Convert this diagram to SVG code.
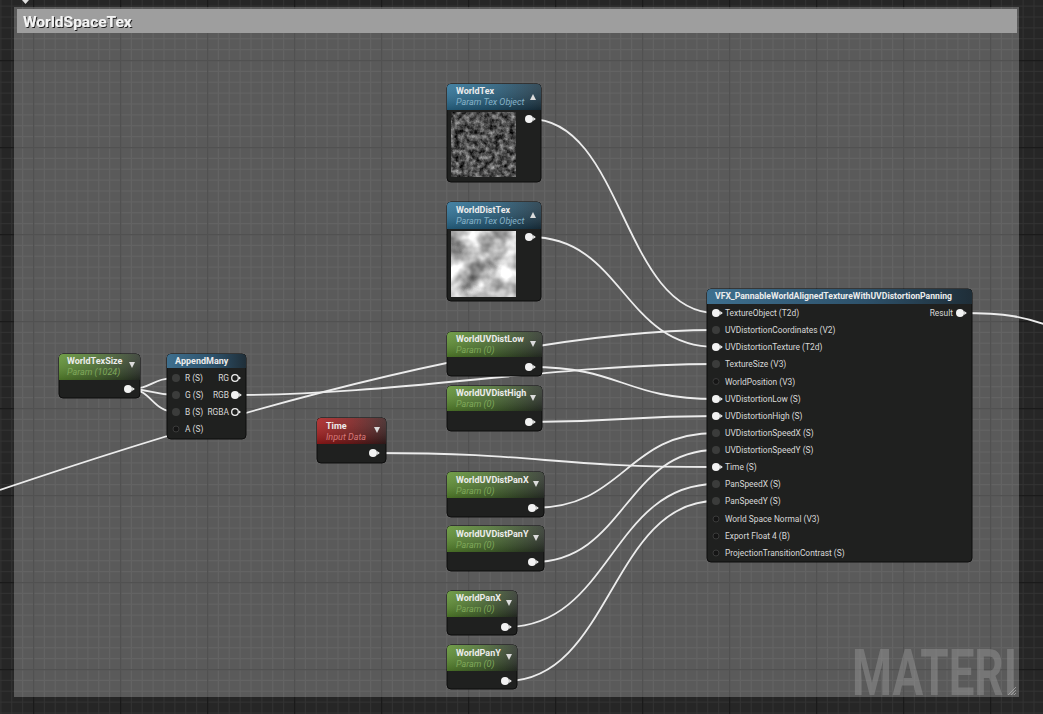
<svg xmlns="http://www.w3.org/2000/svg" width="1043" height="714" viewBox="0 0 1043 714">
<style>
.t{font-family:Roboto,"Liberation Sans",sans-serif;font-size:9px;font-weight:bold;fill:#ececec}
.s{font-family:Roboto,"Liberation Sans",sans-serif;font-size:9px;font-style:italic}
.sg{fill:#7fa85a}
.sb{fill:#86b2c8}
.sr{fill:#d77a7a}
.l{font-family:Roboto,"Liberation Sans",sans-serif;font-size:8.4px;fill:#d8d8d8}
.body{fill:#1f201f;stroke:#0d0d0d;stroke-width:1}
.w{fill:none;stroke:#ececec;stroke-width:1.8}
.pw{fill:#f2f2f2}
.pg{fill:#3b3c3b}
.pu{fill:#151515;stroke:#3a3a3a;stroke-width:1}
.tri{fill:#dcdcdc}
</style>
<defs>
<pattern id="grid" patternUnits="userSpaceOnUse" x="33" y="60" width="87" height="87">
<rect width="87" height="87" fill="#262626"/>
<g fill="#323232">
<rect x="10.9" width="1" height="87"/><rect x="21.7" width="1" height="87"/><rect x="32.6" width="1" height="87"/><rect x="43.5" width="1" height="87"/><rect x="54.4" width="1" height="87"/><rect x="65.2" width="1" height="87"/><rect x="76.1" width="1" height="87"/>
<rect y="10.9" width="87" height="1"/><rect y="21.7" width="87" height="1"/><rect y="32.6" width="87" height="1"/><rect y="43.5" width="87" height="1"/><rect y="54.4" width="87" height="1"/><rect y="65.2" width="87" height="1"/><rect y="76.1" width="87" height="1"/>
</g>
<g fill="#1a1a1a"><rect x="0" width="1.3" height="87"/><rect y="0" width="87" height="1.3"/></g>
</pattern>
<linearGradient id="gG" x1="0" x2="1" y1="0" y2="0"><stop offset="0" stop-color="#5e9130"/><stop offset="0.45" stop-color="#4b7030"/><stop offset="1" stop-color="#2c332a"/></linearGradient>
<linearGradient id="gB" x1="0" x2="1" y1="0" y2="0"><stop offset="0" stop-color="#2b7197"/><stop offset="0.5" stop-color="#235a78"/><stop offset="1" stop-color="#1c3544"/></linearGradient>
<linearGradient id="gB2" x1="0" x2="1" y1="0" y2="0"><stop offset="0" stop-color="#3e6f8e"/><stop offset="0.6" stop-color="#2d516a"/><stop offset="1" stop-color="#1f2e38"/></linearGradient>
<linearGradient id="gR" x1="0" x2="1" y1="0" y2="0"><stop offset="0" stop-color="#a91c1c"/><stop offset="0.5" stop-color="#7d1c1c"/><stop offset="1" stop-color="#3a1f1f"/></linearGradient>
<linearGradient id="gloss" x1="0" x2="0" y1="0" y2="1"><stop offset="0" stop-color="#fff" stop-opacity="0.12"/><stop offset="1" stop-color="#000" stop-opacity="0.25"/></linearGradient>
<filter id="n1" x="0" y="0" width="1" height="1" color-interpolation-filters="sRGB">
<feTurbulence type="fractalNoise" baseFrequency="0.2" numOctaves="4" seed="3"/>
<feColorMatrix type="matrix" values="0.9 0 0 0 -0.14  0.9 0 0 0 -0.14  0.9 0 0 0 -0.14  0 0 0 0 1"/>
</filter>
<filter id="n2" x="0" y="0" width="1" height="1" color-interpolation-filters="sRGB">
<feTurbulence type="fractalNoise" baseFrequency="0.05" numOctaves="3" seed="7"/>
<feColorMatrix type="matrix" values="1.1 0 0 0 0.16  1.1 0 0 0 0.16  1.1 0 0 0 0.16  0 0 0 0 1"/>
</filter>
<filter id="sh" x="-0.05" y="-0.2" width="1.1" height="1.6"><feDropShadow dx="1" dy="1" stdDeviation="0.6" flood-color="#000" flood-opacity="0.8"/></filter>
<g id="pin"><circle r="4" class="pw"/><path d="M4.2,-2 L6.8,0 L4.2,2Z" class="pw"/></g>
</defs>

<rect width="1043" height="714" fill="url(#grid)"/>
<path d="M22,0 L29,0 L25.5,4Z" fill="#e0e0e0"/>

<g id="comment">
<rect x="14" y="7" width="1005" height="690" fill="#fff" fill-opacity="0.245"/>
<rect x="17" y="9" width="1000" height="24" fill="#9e9e9e"/>
<text x="23" y="27" font-family="Roboto,'Liberation Sans',sans-serif" font-size="15.5" font-weight="bold" fill="#f4f4f4" filter="url(#sh)">WorldSpaceTex</text>
<text x="852" y="695" font-family="Roboto,'Liberation Sans',sans-serif" font-size="64" font-weight="bold" fill="#9a9a9a" fill-opacity="0.45" textLength="165" lengthAdjust="spacingAndGlyphs">MATERI</text>
<path d="M1008,695 L1016,687 M1011,695 L1016,690 M1014,695 L1016,693" stroke="#aaa" stroke-width="0.8"/>
</g>

<g id="connectors">
<path class="w" d="M0,490 C200,422 500,330 716,330"/>
<path class="w" d="M530,119 C623,119 623,313 716,313"/>
<path class="w" d="M530,237 C623,237 623,347 716,347"/>
<path class="w" d="M129,389 C152,389 152,378 176,378"/>
<path class="w" d="M129,389 C152,389 152,395 176,395"/>
<path class="w" d="M129,389 C152,389 152,412 176,412"/>
<path class="w" d="M236,395 C396,395 556,364 716,364"/>
<path class="w" d="M530,367 C623,367 623,399 716,399"/>
<path class="w" d="M530,422 C623,422 623,416 716,416"/>
<path class="w" d="M374,453 C545,453 545,467 716,467"/>
<path class="w" d="M533,508 C625,508 625,433 716,433"/>
<path class="w" d="M533,562 C625,562 625,450 716,450"/>
<path class="w" d="M506,627 C611,627 611,484 716,484"/>
<path class="w" d="M506,681 C611,681 611,501 716,501"/>
<path class="w" d="M960,313 C1005,313 1025,316 1060,330"/>
</g>

<g id="WorldTex">
<rect class="body" x="447" y="84" width="94" height="98" rx="4"/>
<path d="M447,110 V88 Q447,84 451,84 H537 Q541,84 541,88 V110Z" fill="url(#gB)"/>
<path d="M447,110 V88 Q447,84 451,84 H537 Q541,84 541,88 V110Z" fill="url(#gloss)"/>
<text class="t" x="456" y="94">WorldTex</text>
<text class="s sb" x="456" y="105">Param Tex Object</text>
<path class="tri" d="M530,100 L536,100 L533,94Z"/>
<rect x="451" y="112" width="65" height="65" fill="#555" filter="url(#n1)"/>
<use href="#pin" x="529" y="119"/>
</g>

<g id="WorldDistTex">
<rect class="body" x="447" y="202" width="94" height="99" rx="4"/>
<path d="M447,229 V206 Q447,202 451,202 H537 Q541,202 541,206 V229Z" fill="url(#gB)"/>
<path d="M447,229 V206 Q447,202 451,202 H537 Q541,202 541,206 V229Z" fill="url(#gloss)"/>
<text class="t" x="456" y="213">WorldDistTex</text>
<text class="s sb" x="456" y="224">Param Tex Object</text>
<path class="tri" d="M530,218 L536,218 L533,212Z"/>
<rect x="451" y="231" width="65" height="66" fill="#bbb" filter="url(#n2)"/>
<use href="#pin" x="529" y="237"/>
</g>

<g id="WorldTexSize">
<rect class="body" x="59" y="354" width="81" height="44" rx="4"/>
<path d="M59,380 V358 Q59,354 63,354 H136 Q140,354 140,358 V380Z" fill="url(#gG)"/>
<path d="M59,380 V358 Q59,354 63,354 H136 Q140,354 140,358 V380Z" fill="url(#gloss)"/>
<text class="t" x="67" y="364">WorldTexSize</text>
<text class="s sg" x="67" y="375">Param (1024)</text>
<path class="tri" d="M129,362 L135,362 L132,368Z"/>
<use href="#pin" x="128" y="389"/>
</g>

<g id="AppendMany">
<rect class="body" x="167" y="354" width="79" height="85" rx="4"/>
<path d="M167,368 V358 Q167,354 171,354 H242 Q246,354 246,358 V368Z" fill="url(#gB2)"/>
<text class="t" x="175" y="364">AppendMany</text>
<circle class="pg" cx="176" cy="378" r="4"/>
<circle class="pg" cx="176" cy="395" r="4"/>
<circle class="pg" cx="176" cy="412" r="4"/>
<circle class="pu" cx="176" cy="429" r="3"/>
<text class="l" x="185" y="381">R (S)</text>
<text class="l" x="185" y="398">G (S)</text>
<text class="l" x="185" y="415">B (S)</text>
<text class="l" x="185" y="432">A (S)</text>
<text class="l" x="229" y="381" text-anchor="end">RG</text>
<text class="l" x="229" y="398" text-anchor="end">RGB</text>
<text class="l" x="229" y="415" text-anchor="end">RGBA</text>
<circle cx="235" cy="378" r="3.3" fill="#1f201f" stroke="#eee" stroke-width="1.3"/><path d="M239,376.5 L241,378 L239,379.5Z" class="pw"/>
<use href="#pin" x="235" y="395"/>
<circle cx="235" cy="412" r="3.3" fill="#1f201f" stroke="#eee" stroke-width="1.3"/><path d="M239,410.5 L241,412 L239,413.5Z" class="pw"/>
</g>

<g id="WorldUVDistLow">
<rect class="body" x="447" y="332" width="95" height="44" rx="4"/>
<path d="M447,357 V336 Q447,332 451,332 H538 Q542,332 542,336 V357Z" fill="url(#gG)"/>
<path d="M447,357 V336 Q447,332 451,332 H538 Q542,332 542,336 V357Z" fill="url(#gloss)"/>
<text class="t" x="456" y="342">WorldUVDistLow</text>
<text class="s sg" x="456" y="353">Param (0)</text>
<path class="tri" d="M530,341 L536,341 L533,347Z"/>
<use href="#pin" x="529" y="367"/>
</g>

<g id="WorldUVDistHigh">
<rect class="body" x="447" y="386" width="95" height="45" rx="4"/>
<path d="M447,411 V390 Q447,386 451,386 H538 Q542,386 542,390 V411Z" fill="url(#gG)"/>
<path d="M447,411 V390 Q447,386 451,386 H538 Q542,386 542,390 V411Z" fill="url(#gloss)"/>
<text class="t" x="456" y="396">WorldUVDistHigh</text>
<text class="s sg" x="456" y="407">Param (0)</text>
<path class="tri" d="M530,395 L536,395 L533,401Z"/>
<use href="#pin" x="529" y="422"/>
</g>

<g id="Time">
<rect class="body" x="317" y="418" width="69" height="45" rx="4"/>
<path d="M317,444 V422 Q317,418 321,418 H382 Q386,418 386,422 V444Z" fill="url(#gR)"/>
<path d="M317,444 V422 Q317,418 321,418 H382 Q386,418 386,422 V444Z" fill="url(#gloss)"/>
<text class="t" x="326" y="429">Time</text>
<text class="s sr" x="326" y="440">Input Data</text>
<path class="tri" d="M374,427 L380,427 L377,433Z"/>
<use href="#pin" x="373" y="453"/>
</g>

<g id="WorldUVDistPanX">
<rect class="body" x="447" y="472" width="97" height="45" rx="4"/>
<path d="M447,498 V476 Q447,472 451,472 H540 Q544,472 544,476 V498Z" fill="url(#gG)"/>
<path d="M447,498 V476 Q447,472 451,472 H540 Q544,472 544,476 V498Z" fill="url(#gloss)"/>
<text class="t" x="456" y="483">WorldUVDistPanX</text>
<text class="s sg" x="456" y="494">Param (0)</text>
<path class="tri" d="M533,481 L539,481 L536,487Z"/>
<use href="#pin" x="532" y="508"/>
</g>

<g id="WorldUVDistPanY">
<rect class="body" x="447" y="526" width="97" height="45" rx="4"/>
<path d="M447,552 V530 Q447,526 451,526 H540 Q544,526 544,530 V552Z" fill="url(#gG)"/>
<path d="M447,552 V530 Q447,526 451,526 H540 Q544,526 544,530 V552Z" fill="url(#gloss)"/>
<text class="t" x="456" y="537">WorldUVDistPanY</text>
<text class="s sg" x="456" y="548">Param (0)</text>
<path class="tri" d="M533,535 L539,535 L536,541Z"/>
<use href="#pin" x="532" y="562"/>
</g>

<g id="WorldPanX">
<rect class="body" x="447" y="591" width="70" height="44" rx="4"/>
<path d="M447,617 V595 Q447,591 451,591 H513 Q517,591 517,595 V617Z" fill="url(#gG)"/>
<path d="M447,617 V595 Q447,591 451,591 H513 Q517,591 517,595 V617Z" fill="url(#gloss)"/>
<text class="t" x="456" y="601">WorldPanX</text>
<text class="s sg" x="456" y="612">Param (0)</text>
<path class="tri" d="M506,600 L512,600 L509,606Z"/>
<use href="#pin" x="505" y="627"/>
</g>

<g id="WorldPanY">
<rect class="body" x="447" y="645" width="70" height="44" rx="4"/>
<path d="M447,671 V649 Q447,645 451,645 H513 Q517,645 517,649 V671Z" fill="url(#gG)"/>
<path d="M447,671 V649 Q447,645 451,645 H513 Q517,645 517,649 V671Z" fill="url(#gloss)"/>
<text class="t" x="456" y="656">WorldPanY</text>
<text class="s sg" x="456" y="667">Param (0)</text>
<path class="tri" d="M506,654 L512,654 L509,660Z"/>
<use href="#pin" x="505" y="681"/>
</g>

<g id="VFX_PannableWorldAlignedTextureWithUVDistortionPanning">
<rect class="body" x="707" y="289" width="265" height="273" rx="4"/>
<path d="M707,304 V293 Q707,289 711,289 H968 Q972,289 972,293 V304Z" fill="url(#gB2)"/>
<text class="t" x="715" y="299" textLength="237" lengthAdjust="spacingAndGlyphs">VFX_PannableWorldAlignedTextureWithUVDistortionPanning</text>
<use href="#pin" x="716" y="313"/>
<circle class="pg" cx="716" cy="330" r="4"/>
<use href="#pin" x="716" y="347"/>
<circle class="pg" cx="716" cy="364" r="4"/>
<circle class="pu" cx="716" cy="381.5" r="3"/>
<use href="#pin" x="716" y="399"/>
<use href="#pin" x="716" y="416"/>
<circle class="pg" cx="716" cy="433" r="4"/>
<circle class="pg" cx="716" cy="450" r="4"/>
<use href="#pin" x="716" y="467"/>
<circle class="pg" cx="716" cy="484" r="4"/>
<circle class="pg" cx="716" cy="501" r="4"/>
<circle class="pu" cx="716" cy="519" r="3"/>
<circle class="pu" cx="716" cy="536" r="3"/>
<circle class="pu" cx="716" cy="553" r="3"/>
<text class="l" x="725" y="316">TextureObject (T2d)</text>
<text class="l" x="725" y="333">UVDistortionCoordinates (V2)</text>
<text class="l" x="725" y="350">UVDistortionTexture (T2d)</text>
<text class="l" x="725" y="367">TextureSize (V3)</text>
<text class="l" x="725" y="384.5">WorldPosition (V3)</text>
<text class="l" x="725" y="402">UVDistortionLow (S)</text>
<text class="l" x="725" y="419">UVDistortionHigh (S)</text>
<text class="l" x="725" y="436">UVDistortionSpeedX (S)</text>
<text class="l" x="725" y="453">UVDistortionSpeedY (S)</text>
<text class="l" x="725" y="470">Time (S)</text>
<text class="l" x="725" y="487">PanSpeedX (S)</text>
<text class="l" x="725" y="504">PanSpeedY (S)</text>
<text class="l" x="725" y="522">World Space Normal (V3)</text>
<text class="l" x="725" y="539">Export Float 4 (B)</text>
<text class="l" x="725" y="556">ProjectionTransitionContrast (S)</text>
<text class="l" x="953" y="316" text-anchor="end">Result</text>
<use href="#pin" x="960" y="313"/>
</g>
</svg>
